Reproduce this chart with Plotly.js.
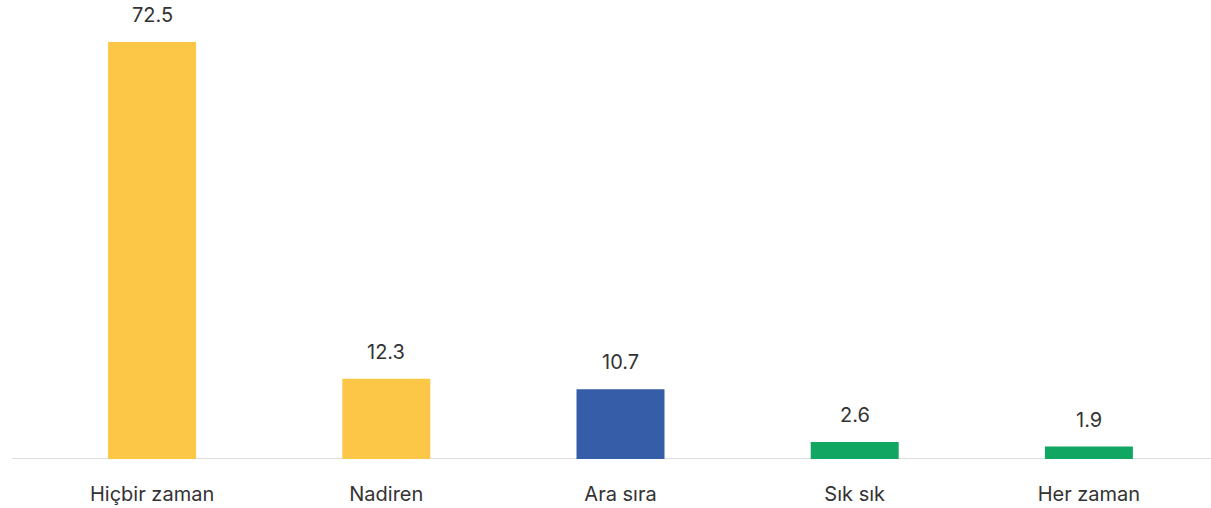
<!DOCTYPE html>
<html>
<head>
<meta charset="utf-8">
<script src="https://cdn.plot.ly/plotly-3.0.1.min.js"></script>
<style>html,body{margin:0;padding:0;background:#fff;}#chart{width:1211px;height:508px;}</style>
</head>
<body>
<div id="chart"></div>
<script>
const categories = ["Hiçbir zaman", "Nadiren", "Ara sıra", "Sık sık", "Her zaman"];
const values = [72.5, 12.3, 10.7, 2.6, 1.9];
const barColors = ["#FCC647", "#FCC647", "#355DA8", "#12A663", "#12A663"];
const labels = values.map(v => v.toFixed(1));

const yMax = 64;
const fontFam = "Inter, 'Open Sans', sans-serif";
const textColor = "#333333";

const trace = {
  type: "bar",
  x: categories,
  y: values,
  marker: {color: barColors},
  hoverinfo: "skip"
};

const annotations = categories.map((c, i) => ({
  x: c,
  y: Math.min(values[i], yMax),
  xref: "x",
  yref: "y",
  text: labels[i],
  showarrow: false,
  yanchor: "middle",
  yshift: 27,
  font: {family: fontFam, size: 20, color: textColor}
}));

const layout = {
  width: 1211,
  height: 508,
  margin: {l: 35, r: 5, t: 42, b: 49},
  paper_bgcolor: "#ffffff",
  plot_bgcolor: "#ffffff",
  showlegend: false,
  bargap: 0.6243,
  xaxis: {
    type: "category",
    showgrid: false,
    zeroline: false,
    showline: false,
    ticks: "",
    ticklabelstandoff: 21,
    tickfont: {family: fontFam, size: 20, color: textColor}
  },
  yaxis: {
    range: [0, yMax],
    visible: false,
    showgrid: false,
    zeroline: false
  },
  shapes: [{
    type: "line",
    xref: "paper",
    yref: "y",
    x0: -0.0196,
    x1: 1.005,
    y0: 0,
    y1: 0,
    layer: "below",
    line: {color: "#dedede", width: 2}
  }],
  annotations: annotations
};

Plotly.newPlot("chart", [trace], layout, {displayModeBar: false, staticPlot: true});
</script>
</body>
</html>
